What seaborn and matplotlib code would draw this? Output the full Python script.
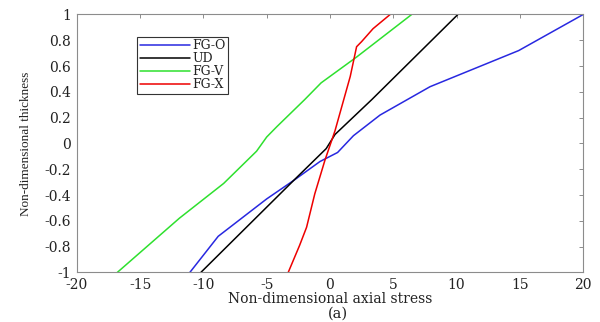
import pandas as pd
import seaborn as sns
import matplotlib.pyplot as plt

# data (stress, thickness)
fgo_stress = [-11.07, -8.83, -5.0, -2.77, -0.79, 0.6, 1.85, 3.95, 7.9, 14.9, 20.0]
fgo_thick = [-1.0, -0.72, -0.43, -0.28, -0.14, -0.07, 0.06, 0.22, 0.44, 0.72, 1.0]

ud_stress = [-10.2, -2.8, -0.3, 0.4, 3.3, 10.1]
ud_thick = [-1.0, -0.28, -0.04, 0.07, 0.34, 1.0]

fgv_stress = [-16.8, -11.9, -8.4, -5.8, -5.0, -4.2, -2.0, -0.7, 2.1, 6.45]
fgv_thick = [-1.0, -0.58, -0.31, -0.06, 0.05, 0.13, 0.34, 0.47, 0.67, 1.0]

fgx_stress = [-3.3, -2.4, -1.85, -1.2, -0.4, 0.4, 1.6, 2.1, 2.5, 3.4, 4.75]
fgx_thick = [-1.0, -0.79, -0.65, -0.39, -0.13, 0.1, 0.52, 0.75, 0.79, 0.89, 1.0]

names = ['FG-O', 'UD', 'FG-V', 'FG-X']
colors = ['#2828e0', '#000000', '#2ee02e', '#ee0000']

df = pd.concat([
    pd.DataFrame({'stress': fgo_stress, 'thick': fgo_thick, 'case': 'FG-O'}),
    pd.DataFrame({'stress': ud_stress, 'thick': ud_thick, 'case': 'UD'}),
    pd.DataFrame({'stress': fgv_stress, 'thick': fgv_thick, 'case': 'FG-V'}),
    pd.DataFrame({'stress': fgx_stress, 'thick': fgx_thick, 'case': 'FG-X'}),
])

sns.set_style('white')
plt.rcParams['font.family'] = ['DejaVu Serif']
plt.rcParams['axes.unicode_minus'] = False

fig = plt.figure(figsize=(6, 3.22), dpi=100)
ax = fig.add_axes([0.128, 0.154, 0.844, 0.801])

sns.lineplot(data=df, x='stress', y='thick', hue='case', hue_order=names,
             palette=colors, sort=False, estimator=None, linewidth=1.1, ax=ax)

ax.set_xlim(-20, 20)
ax.set_ylim(-1, 1)
ax.set_xticks(range(-20, 21, 5))
ax.set_yticks([i / 10 for i in range(-10, 11, 2)])
ax.set_yticklabels(['-1', '-0.8', '-0.6', '-0.4', '-0.2', '0', '0.2', '0.4', '0.6', '0.8', '1'])

for s in ax.spines.values():
    s.set_color('#8c8c8c')
    s.set_linewidth(0.8)
ax.tick_params(direction='in', length=3, width=0.7, color='#8c8c8c',
               top=True, right=True, labelsize=10, pad=4, labelcolor='#222222')

ax.set_xlabel('Non-dimensional axial stress', fontsize=10, labelpad=0, color='#222222')
ax.set_ylabel('Non-dimensional thickness', fontsize=9.5, family='Liberation Serif',
              color='#222222')
ax.yaxis.set_label_coords(-0.088, 0.5)

leg = ax.legend(loc='upper left', bbox_to_anchor=(0.119, 0.913), borderaxespad=0,
                fontsize=9, handlelength=4.0, handletextpad=0.2, labelspacing=0.0,
                borderpad=0.2, fancybox=False, framealpha=1)
leg.get_frame().set_edgecolor('#333333')
leg.get_frame().set_linewidth(0.8)
for t in leg.get_texts():
    t.set_color('#222222')

fig.text(0.563, 0.012, '(a)', fontsize=10.5, ha='center', color='#222222')

fig.savefig('out.png', dpi=100)
